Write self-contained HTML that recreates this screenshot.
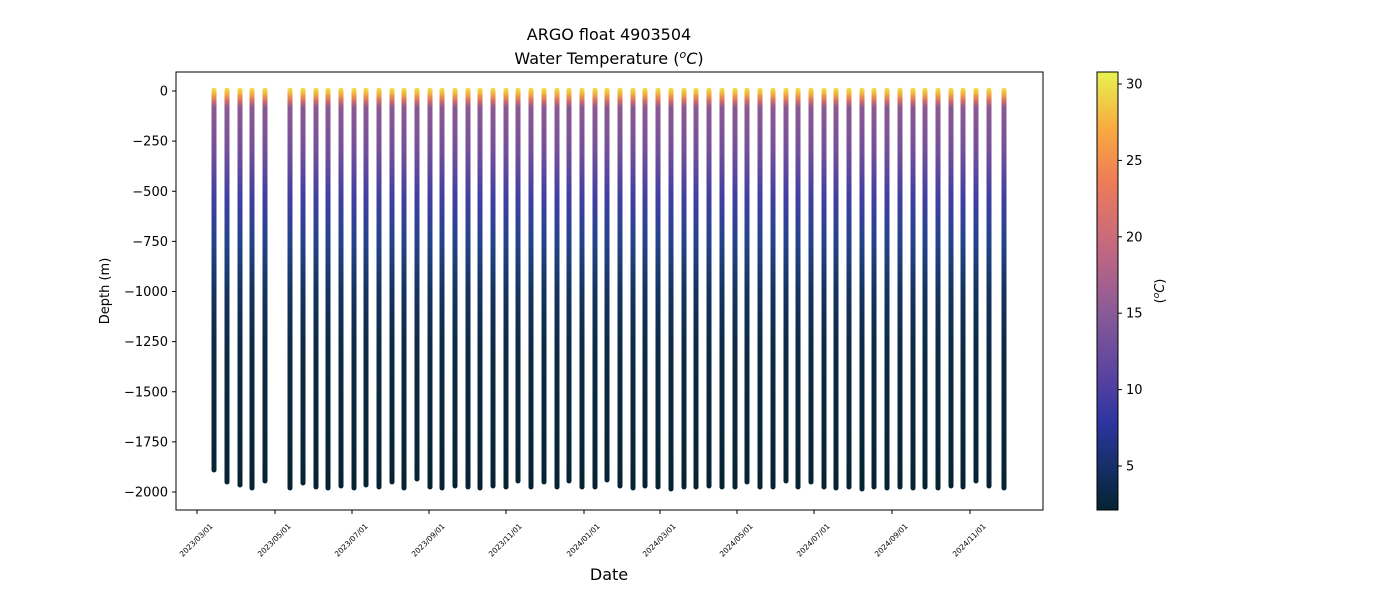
<!DOCTYPE html>
<html><head><meta charset="utf-8"><style>
body{margin:0;background:#fff;font-family:"Liberation Sans","DejaVu Sans",sans-serif}
</style></head><body>
<svg id="s" width="1400" height="600" xmlns="http://www.w3.org/2000/svg" font-family="DejaVu Sans, Liberation Sans, sans-serif">
<defs>
<linearGradient id="pg" gradientUnits="userSpaceOnUse" x1="0" y1="89" x2="0" y2="494">
<stop offset="0" stop-color="#eedd44"/>
<stop offset="0.012" stop-color="#f4b040"/>
<stop offset="0.028" stop-color="#d87060"/>
<stop offset="0.045" stop-color="#8c5a92"/>
<stop offset="0.15" stop-color="#74509a"/>
<stop offset="0.27" stop-color="#3f3fa2"/>
<stop offset="0.38" stop-color="#24438a"/>
<stop offset="0.5" stop-color="#15335f"/>
<stop offset="0.65" stop-color="#0c2a44"/>
<stop offset="1" stop-color="#072231"/>
</linearGradient>
<linearGradient id="cb" x1="0" y1="1" x2="0" y2="0">
<stop offset="0" stop-color="#042333"/>
<stop offset="0.1" stop-color="#172f68"/>
<stop offset="0.2" stop-color="#2c35a0"/>
<stop offset="0.3" stop-color="#5742a0"/>
<stop offset="0.45" stop-color="#8a5a98"/>
<stop offset="0.6" stop-color="#c46880"/>
<stop offset="0.75" stop-color="#ee7c58"/>
<stop offset="0.87" stop-color="#f8aa40"/>
<stop offset="1" stop-color="#e8f250"/>
</linearGradient>
</defs>
<g id="bars"></g>
<rect x="176" y="72" width="867" height="438" fill="none" stroke="#000" stroke-width="1"/>
<g id="ax" font-size="13" fill="#000"></g>
<text x="609" y="40" text-anchor="middle" font-size="16">ARGO float 4903504</text>
<text x="609" y="64" text-anchor="middle" font-size="16">Water Temperature (<tspan font-style="italic" font-size="11" dy="-6">o</tspan><tspan font-style="italic" dy="6">C</tspan>)</text>
<text x="609" y="580" text-anchor="middle" font-size="16">Date</text>
<text transform="translate(109,291) rotate(-90)" text-anchor="middle" font-size="13">Depth (m)</text>
<rect x="1097" y="72" width="21" height="438" fill="url(#cb)" stroke="#000" stroke-width="1"/>
<text transform="translate(1164,291) rotate(-90)" text-anchor="middle" font-size="13">(<tspan font-style="italic" font-size="9" dy="-5">o</tspan><tspan font-style="italic" dy="5">C</tspan>)</text>
</svg>
<script>
const ns="http://www.w3.org/2000/svg";
function el(p,t,a,txt){const e=document.createElementNS(ns,t);for(const k in a)e.setAttribute(k,a[k]);if(txt!=null)e.textContent=txt;p.appendChild(e);return e;}
const bars=document.getElementById('bars'),ax=document.getElementById('ax');
const xs=[214,227,240,252,265,290,303,316,328,341,354,366,379,392,404,417,430,442,455,468,480,493,506,518,531,544,557,569,582,595,607,620,633,645,658,671,684,696,709,722,735,747,760,773,786,798,811,824,836,849,862,874,887,900,913,925,938,951,963,976,989,1004];
const bots=[1890,1950,1965,1980,1945,1980,1955,1975,1980,1970,1980,1965,1975,1950,1980,1935,1975,1980,1970,1975,1980,1970,1975,1945,1975,1950,1975,1945,1975,1975,1940,1970,1980,1970,1975,1985,1975,1975,1970,1975,1975,1950,1975,1975,1945,1975,1950,1975,1980,1975,1985,1975,1980,1975,1980,1975,1980,1970,1975,1945,1970,1980];
const y=d=>91+d*0.2005;
xs.forEach((x,i)=>{const t=y(-4),b=y(bots[i]);
el(bars,'rect',{x:x-2.5,y:t-2.5,width:5,height:b-t+5,rx:2.5,fill:'url(#pg)'});});
[0,-250,-500,-750,-1000,-1250,-1500,-1750,-2000].forEach(v=>{const yy=y(-v);
el(ax,'line',{x1:172,x2:176,y1:yy,y2:yy,stroke:'#000'});
el(ax,'text',{x:168,y:yy+4.5,'text-anchor':'end'},v<0?'\u2212'+(-v):'0');});
const dt=[[197,'2023/03/01'],[275,'2023/05/01'],[352,'2023/07/01'],[429,'2023/09/01'],[506,'2023/11/01'],[584,'2024/01/01'],[660,'2024/03/01'],[737,'2024/05/01'],[814,'2024/07/01'],[892,'2024/09/01'],[970,'2024/11/01']];
dt.forEach(([x,l])=>{el(ax,'line',{x1:x,x2:x,y1:510,y2:514,stroke:'#000'});
el(ax,'text',{transform:`translate(${x+1},${542}) rotate(-45)`,'text-anchor':'middle','font-size':'7.5'},l);});
[5,10,15,20,25,30].forEach(v=>{const yy=466-(v-5)*15.28;
el(ax,'line',{x1:1118,x2:1122,y1:yy,y2:yy,stroke:'#000'});
el(ax,'text',{x:1126,y:yy+4.5},String(v));});
</script>
</body></html>
